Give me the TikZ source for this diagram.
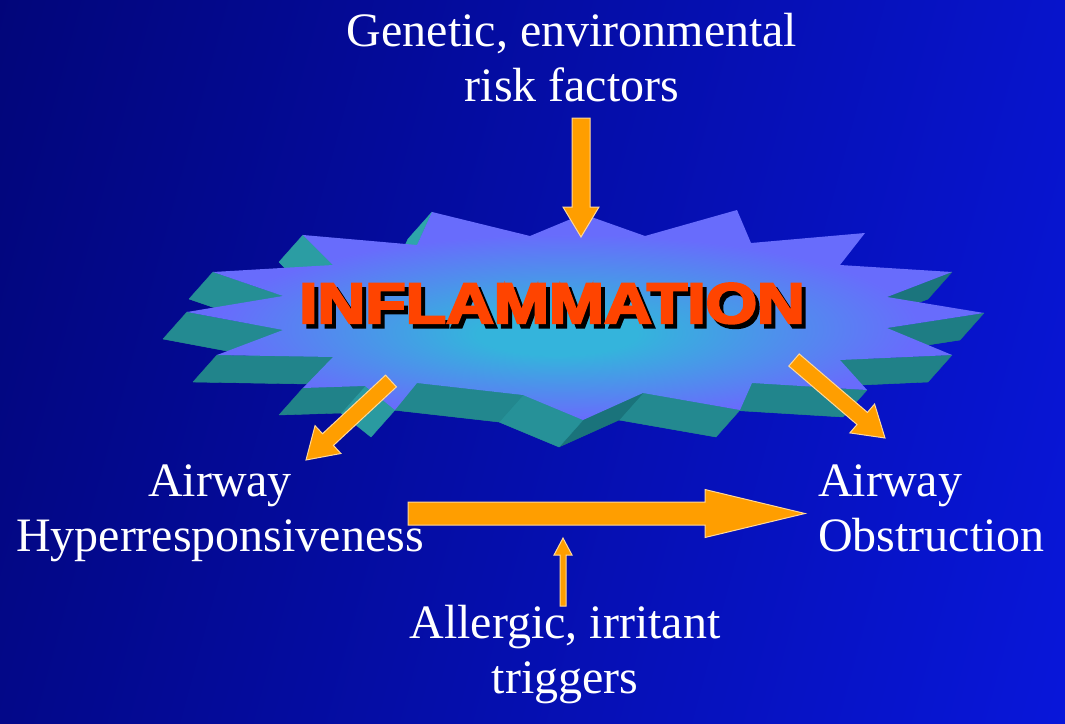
\documentclass[tikz,border=0pt]{standalone}
\usepackage{fontspec}
\setmainfont{Liberation Serif}
\newfontfamily\inflfont[BoldFeatures={FakeBold=4}]{Liberation Sans}
\usepackage{graphicx}
\usetikzlibrary{calc}
\definecolor{bgL}{RGB}{0,0,92}
\definecolor{bgR}{RGB}{10,28,248}
\definecolor{tealL}{RGB}{50,175,180}
\definecolor{tealD}{RGB}{25,112,120}
\definecolor{starC}{RGB}{52,180,220}
\definecolor{starE}{RGB}{104,108,252}
\definecolor{arrowor}{RGB}{255,158,0}
\definecolor{inflred}{RGB}{255,68,0}
\pgfdeclarehorizontalshading{bgshade}{100bp}{color(0bp)=(bgL); color(100bp)=(bgR)}
\pgfdeclareradialshading{starshade}{\pgfpoint{-2bp}{-5bp}}{color(0bp)=(starC); color(5bp)=(starC); color(22bp)=(starE); color(50bp)=(starE)}
\tikzset{
  lbl/.style={text=white, inner sep=0pt, font=\fontsize{48}{55}\selectfont},
  blockarrow/.style={fill=arrowor, draw=white!60!arrowor, line width=1pt, line join=miter},
  infltext/.style={inner sep=0pt, font=\inflfont\bfseries\fontsize{57}{60}\selectfont},
}
\newcommand\blockarr[5]{%
  \path ($(#2)!#5!(#1)$) coordinate (bahead);
  \draw[blockarrow] ($(#1)!#3!90:(#2)$) -- ($(bahead)!#3!90:(#2)$) -- ($(bahead)!#4!90:(#2)$) -- (#2)
    -- ($(bahead)!#4!-90:(#2)$) -- ($(bahead)!#3!-90:(#2)$) -- ($(#1)!#3!-90:(#2)$) -- cycle;}
\newcommand\infltxt{\scalebox{1.16}[1]{INFLAMMATION}}
\def\toplist{432/212, 530/236, 583/214, 645/236, 737/210, 751/243, 865/233, 840/265, 952/272, 887/297,
  984/313, 887/328, 952/355, 840/360, 867/390, 752/383, 740/410, 643/393, 583/420, 523/395,
  417/383, 395/410, 365/386, 303/388, 333/357, 217/355, 283/330, 187/312, 283/296, 213/272,
  333/265, 303/235, 417/245}
\def\sx{-24}\def\sy{27}
\begin{document}
\begin{tikzpicture}[x=1pt,y=-1pt]
\useasboundingbox (0,0) rectangle (1065,723);
\shade[shading=bgshade, shading angle=-15] (0,0) rectangle (1065,723);
% star: bottom face
\fill[tealD] (417+\sx,245+\sy) foreach \x/\y in \toplist { -- (\x+\sx,\y+\sy)} -- cycle;
% star: side faces
\foreach \x/\y [remember=\x as \xp (initially 417), remember=\y as \yp (initially 245)] in \toplist {
  \pgfmathsetmacro\dx{(\x-\xp)/100}
  \pgfmathsetmacro\dy{(\y-\yp)/100}
  \pgfmathsetmacro\len{sqrt(\dx*\dx+\dy*\dy)}
  \pgfmathtruncatemacro\front{((-24*\dy-27*\dx)>0) ? 1 : 0}
  \pgfmathtruncatemacro\p{max(0,min(100,30-60*\dy/\len))}
  \ifnum\front=1
    \fill[tealL!\p!tealD, draw=tealL!\p!tealD, line width=0.4pt, line join=round]
      (\xp,\yp) -- (\x,\y) -- (\x+\sx,\y+\sy) -- (\xp+\sx,\yp+\sy) -- cycle;
  \fi
}
% star: top face
\shade[shading=starshade] (417,245) foreach \x/\y in \toplist { -- (\x,\y)} -- cycle;
% INFLAMMATION with drop shadow
\node[infltext, anchor=base] (infl) at (552,323) {%
  \rlap{\kern4pt\raisebox{-4.5pt}{\color{black}\infltxt}}%
  \color{inflred}\infltxt};
% labels
\node[lbl, anchor=base] (genetic) at (572,46) {\begin{tabular}[t]{@{}c@{}}Genetic, environmental\\risk factors\end{tabular}};
\node[lbl, anchor=base] (ahr) at (220,496) {\begin{tabular}[t]{@{}c@{}}Airway\\Hyperresponsiveness\end{tabular}};
\node[lbl, anchor=base west] (aob) at (818,496) {\begin{tabular}[t]{@{}l@{}}Airway\\Obstruction\end{tabular}};
\node[lbl, anchor=base] (allergic) at (565,638) {\begin{tabular}[t]{@{}c@{}}Allergic, irritant\\triggers\end{tabular}};
% arrows
\coordinate (a1s) at (581,118); \coordinate (a1e) at (581,237);
\coordinate (a2s) at (391,381); \coordinate (a2e) at (306,460);
\coordinate (a3s) at (794,360); \coordinate (a3e) at (885,438);
\coordinate (a4s) at (408,513.5); \coordinate (a4e) at (805,513.5);
\coordinate (a5s) at (563,606); \coordinate (a5e) at (563,538);
\blockarr{a1s}{a1e}{9pt}{18pt}{30pt}
\blockarr{a2s}{a2e}{8pt}{19pt}{30pt}
\blockarr{a3s}{a3e}{8pt}{19pt}{30pt}
\blockarr{a4s}{a4e}{11.5pt}{24pt}{100pt}
\blockarr{a5s}{a5e}{3pt}{9pt}{17pt}
\end{tikzpicture}
\end{document}
